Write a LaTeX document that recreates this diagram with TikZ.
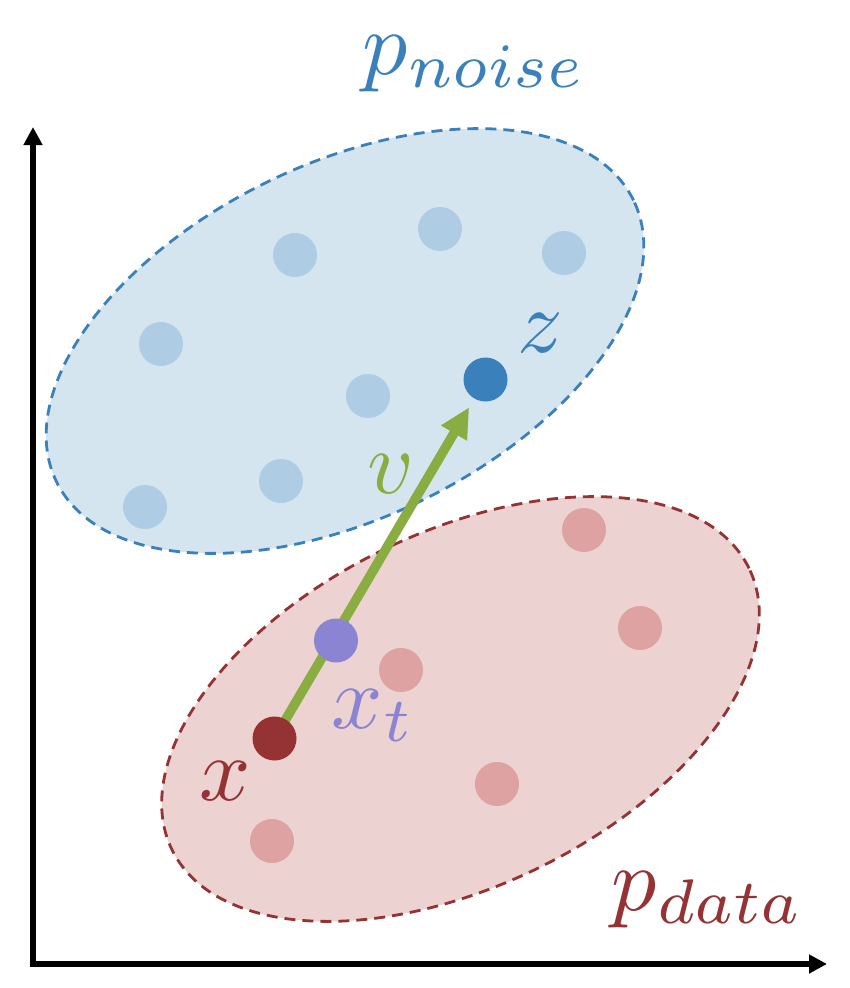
\documentclass[tikz,border=0pt]{standalone}
\usetikzlibrary{arrows.meta}
\definecolor{nfill}{HTML}{D5E5F0}
\definecolor{nline}{HTML}{3A80BA}
\definecolor{ndot}{HTML}{AECDE5}
\definecolor{dfill}{HTML}{EDD2D2}
\definecolor{dline}{HTML}{943234}
\definecolor{ddot}{HTML}{DFA2A2}
\definecolor{xtcol}{HTML}{8A84D2}
\definecolor{vcol}{HTML}{89AD41}
\pgfdeclarelayer{back}
\pgfdeclarelayer{mid}
\pgfsetlayers{back,mid,main}
\tikzset{
  blob/.style={line width=2.8pt, dash pattern=on 11pt off 7pt},
  dot/.style={circle, minimum size=44pt, inner sep=0pt, draw=none},
  lbl/.style={anchor=base west, inner sep=0pt, font=\normalsize, scale=9.0, transform shape},
  axis/.style={line width=5.5pt, {Triangle[length=18pt,width=18pt]}-{Triangle[length=18pt,width=18pt]}},
  flow/.style={vcol, line width=9.5pt, -{Triangle[length=30pt,width=28pt]}, shorten >=10pt}
}
\begin{document}
\begin{tikzpicture}[x=1pt, y=-1pt]
\useasboundingbox (0,0) rectangle (850,988);
% distributions
\begin{pgfonlayer}{back}
\draw[blob, draw=nline, fill=nfill, rotate around={26:(345,341)}] (345,341) ellipse [x radius=321pt, y radius=177pt];
\draw[blob, draw=dline, fill=dfill, rotate around={26:(460.5,709)}] (460.5,709) ellipse [x radius=321pt, y radius=177pt];
\end{pgfonlayer}
% axes
\coordinate (ytop) at (33,127);
\coordinate (o) at (33,964);
\coordinate (xend) at (827,964);
\draw[axis] (ytop) -- (o) -- (xend);
% noise samples
\node[dot, fill=ndot] (n1) at (295,255) {};
\node[dot, fill=ndot] (n2) at (440,229) {};
\node[dot, fill=ndot] (n3) at (564,253) {};
\node[dot, fill=ndot] (n4) at (161,344) {};
\node[dot, fill=ndot] (n5) at (368,396) {};
\node[dot, fill=ndot] (n6) at (281,481) {};
\node[dot, fill=ndot] (n7) at (145,507) {};
\node[dot, fill=nline] (z) at (485.5,379.5) {};
% data samples
\node[dot, fill=ddot] (d1) at (584,530) {};
\node[dot, fill=ddot] (d2) at (640,628) {};
\node[dot, fill=ddot] (d3) at (401,670) {};
\node[dot, fill=ddot] (d4) at (497,784) {};
\node[dot, fill=ddot] (d5) at (272,841) {};
\node[dot, fill=dline] (x) at (274.5,738.5) {};
\node[dot, fill=xtcol] (xt) at (336,640.5) {};
% velocity
\begin{pgfonlayer}{mid}
\draw[flow] (x.center) -- (z);
\end{pgfonlayer}
% labels
\node[lbl, text=nline] (pnoise) at (361,74) {$p_{noise}$};
\node[lbl, text=dline] (pdata) at (610,910) {$p_{data}$};
\node[lbl, text=dline] (xl) at (198,800) {$x$};
\node[lbl, text=xtcol] (xtl) at (330,728) {$x_t$};
\node[lbl, text=nline] (zl) at (516,352) {$z$};
\node[lbl, text=vcol] (vl) at (366,493) {$v$};
\end{tikzpicture}
\end{document}
